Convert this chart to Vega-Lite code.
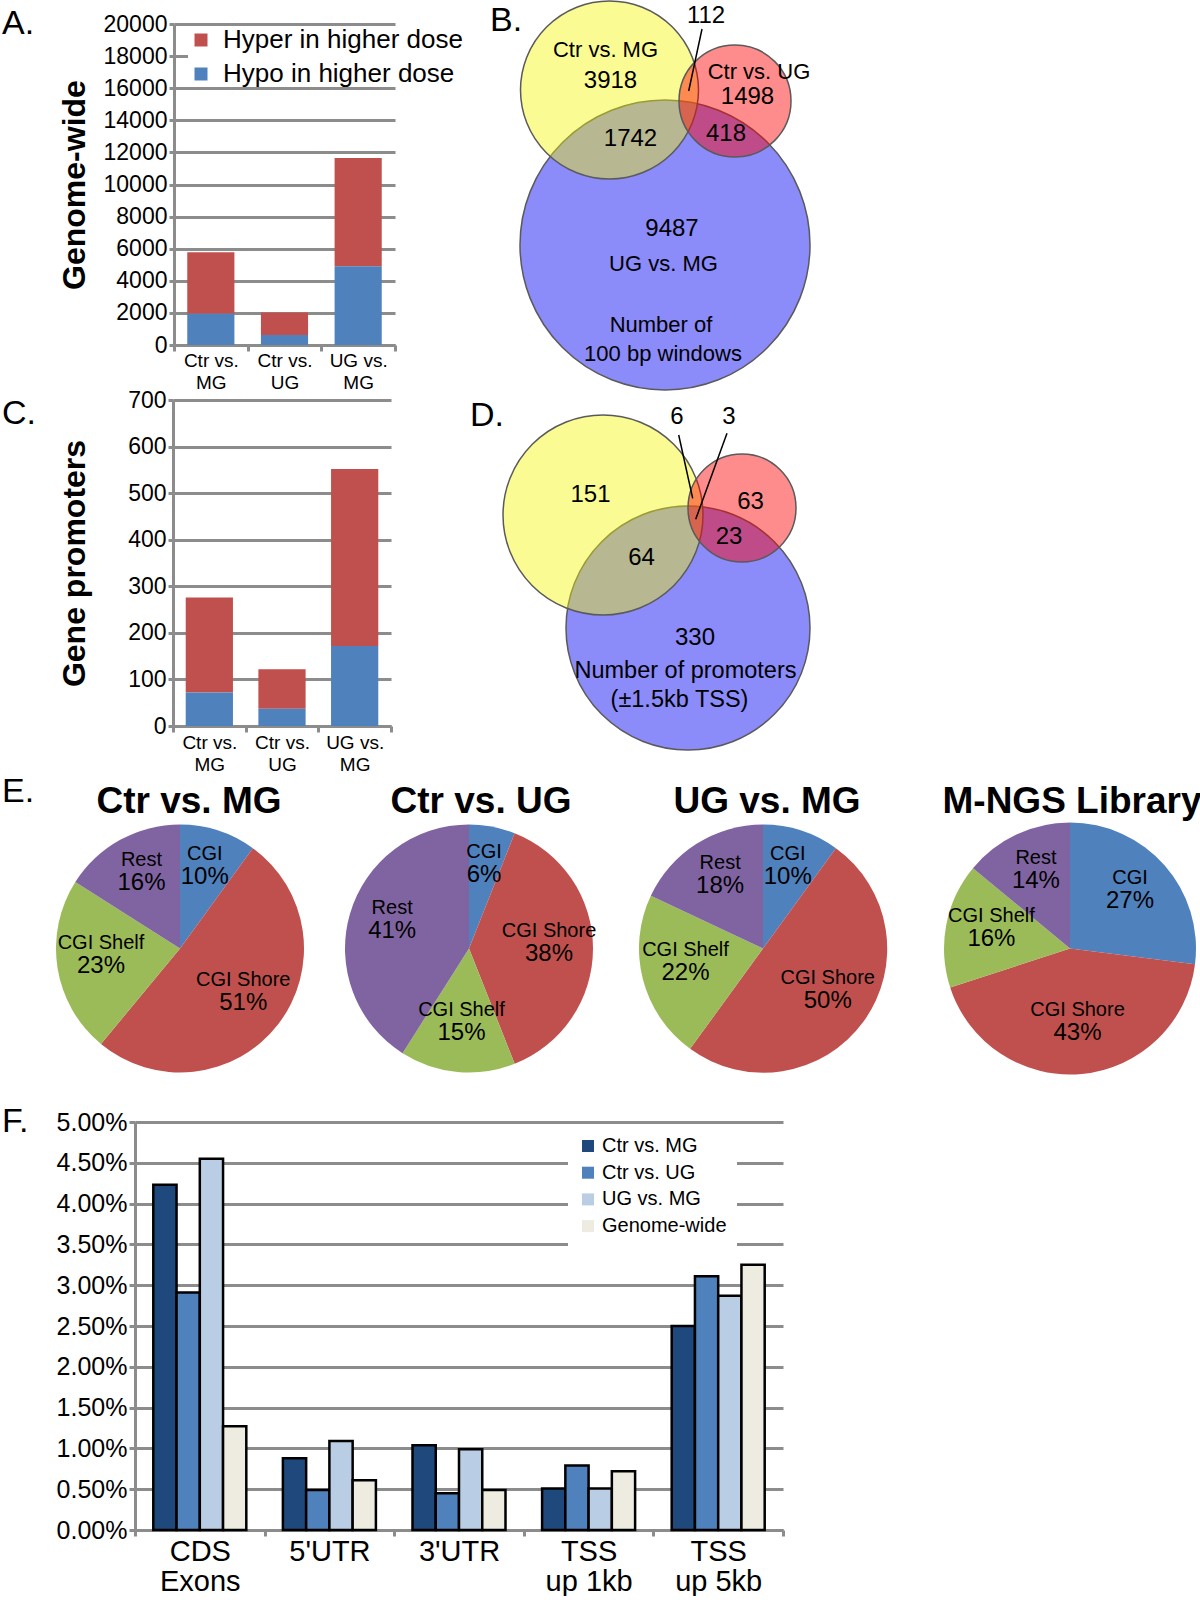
{
  "$schema": "https://vega.github.io/schema/vega-lite/v6.json",
  "padding": {"left": 2, "top": -2, "right": 0, "bottom": 0},
  "background": "white",
  "spacing": -4,
  "columns": 1,
  "align": "none",
  "resolve": {"scale": {"color": "independent", "size": "independent", "theta": "independent"}, "legend": {"color": "independent"}},
  "config": {
    "view": {"stroke": null},
    "font": "Liberation Sans",
    "axis": {"labelFont": "Liberation Sans", "titleFont": "Liberation Sans", "labelColor": "black", "titleColor": "black", "domainColor": "#8c8c8c", "domainWidth": 3, "tickColor": "#8c8c8c", "tickWidth": 3, "gridColor": "#8c8c8c", "gridWidth": 3, "gridOpacity": 1},
    "legend": {"labelFont": "Liberation Sans", "labelColor": "black", "labelLimit": 600},
    "title": {"font": "Liberation Sans", "color": "black"}
  },
  "datasets": {
    "pies": [
      {"panel": "Ctr vs. MG", "region": "CGI", "ord": 1, "share": 0.10},
      {"panel": "Ctr vs. MG", "region": "CGI Shore", "ord": 2, "share": 0.51},
      {"panel": "Ctr vs. MG", "region": "CGI Shelf", "ord": 3, "share": 0.23},
      {"panel": "Ctr vs. MG", "region": "Rest", "ord": 4, "share": 0.16},
      {"panel": "Ctr vs. UG", "region": "CGI", "ord": 1, "share": 0.06},
      {"panel": "Ctr vs. UG", "region": "CGI Shore", "ord": 2, "share": 0.38},
      {"panel": "Ctr vs. UG", "region": "CGI Shelf", "ord": 3, "share": 0.15},
      {"panel": "Ctr vs. UG", "region": "Rest", "ord": 4, "share": 0.41},
      {"panel": "UG vs. MG", "region": "CGI", "ord": 1, "share": 0.10},
      {"panel": "UG vs. MG", "region": "CGI Shore", "ord": 2, "share": 0.50},
      {"panel": "UG vs. MG", "region": "CGI Shelf", "ord": 3, "share": 0.22},
      {"panel": "UG vs. MG", "region": "Rest", "ord": 4, "share": 0.18},
      {"panel": "M-NGS Library", "region": "CGI", "ord": 1, "share": 0.27},
      {"panel": "M-NGS Library", "region": "CGI Shore", "ord": 2, "share": 0.43},
      {"panel": "M-NGS Library", "region": "CGI Shelf", "ord": 3, "share": 0.16},
      {"panel": "M-NGS Library", "region": "Rest", "ord": 4, "share": 0.14}
    ]
  },
  "concat": [
    {
      "resolve": {"legend": {"color": "independent"}, "scale": {"color": "independent"}},
      "hconcat": [
        {"width": 65, "height": 1, "data": {"values": []}, "mark": "point"},
        {
          "width": 221, "height": 321,
          "title": {"text": "A.", "anchor": "start", "frame": "group", "dx": -172, "offset": -28, "fontSize": 34, "fontWeight": "normal"},
          "data": {"values": [
            {"comparison": "Ctr vs. MG", "direction": "Hyper in higher dose", "count": 3822},
            {"comparison": "Ctr vs. MG", "direction": "Hypo in higher dose", "count": 1950},
            {"comparison": "Ctr vs. UG", "direction": "Hyper in higher dose", "count": 1402},
            {"comparison": "Ctr vs. UG", "direction": "Hypo in higher dose", "count": 626},
            {"comparison": "UG vs. MG", "direction": "Hyper in higher dose", "count": 6741},
            {"comparison": "UG vs. MG", "direction": "Hypo in higher dose", "count": 4906}
          ]},
          "mark": {"type": "bar", "width": {"band": 0.64}},
          "encoding": {
            "x": {"field": "comparison", "type": "nominal", "sort": null, "scale": {"paddingInner": 0, "paddingOuter": 0},
                  "axis": {"title": null, "labelAngle": 0, "labelFontSize": 19, "labelLineHeight": 22, "labelPadding": 0, "labelExpr": "split(replace(datum.label, 'vs. ', 'vs.|'), '|')", "tickBand": "extent", "tickSize": 6}},
            "y": {"field": "count", "type": "quantitative", "stack": "zero", "scale": {"domain": [0, 20000], "nice": false},
                  "axis": {"title": "Genome-wide", "titleFontSize": 32, "titleFontWeight": "bold", "titlePadding": 12, "values": [0, 2000, 4000, 6000, 8000, 10000, 12000, 14000, 16000, 18000, 20000], "format": "d", "labelFontSize": 23, "tickSize": 5, "labelPadding": 2, "grid": true}},
            "color": {"field": "direction", "type": "nominal", "scale": {"domain": ["Hyper in higher dose", "Hypo in higher dose"], "range": ["#c0504d", "#4f81bd"]},
                      "legend": {"title": null, "orient": "none", "legendX": 14, "legendY": 3, "labelFontSize": 26, "labelLimit": 600, "symbolType": "square", "symbolSize": 169, "symbolStrokeWidth": 0, "fillColor": "white", "padding": 0, "rowPadding": 8, "labelOffset": 9}},
            "order": {"field": "direction", "sort": "descending"}
          }
        },
        {
          "width": 320, "height": 360,
          "title": {"text": "B.", "anchor": "start", "frame": "group", "dx": -12, "offset": -40, "fontSize": 34, "fontWeight": "normal"},
          "layer": [
            {
              "data": {"values": [{"set": "UG vs. MG", "cx": 16.3, "cy": 22.1, "r": 14.5}]},
              "mark": {"type": "point", "shape": "circle", "filled": true, "fill": "#8b8bfa", "fillOpacity": 1, "opacity": 1, "stroke": "#5a5a5a", "strokeWidth": 1.5},
              "encoding": {
                "x": {"field": "cx", "type": "quantitative", "scale": {"domain": [0, 32], "nice": false, "zero": false}, "axis": null},
                "y": {"field": "cy", "type": "quantitative", "scale": {"domain": [0, 36], "nice": false, "zero": false, "reverse": true}, "axis": null},
                "size": {"field": "r", "type": "quantitative", "scale": {"type": "pow", "exponent": 2, "domain": [0, 10], "range": [0, 40000]}, "legend": null}
              }
            },
            {
              "data": {"values": [{"set": "Ctr vs. MG", "cx": 10.75, "cy": 6.6, "r": 8.9}]},
              "mark": {"type": "point", "shape": "circle", "filled": true, "fill": "#f5f500", "fillOpacity": 0.42, "opacity": 1, "stroke": "#5a5a5a", "strokeWidth": 1.5, "strokeOpacity": 1},
              "encoding": {
                "x": {"field": "cx", "type": "quantitative"},
                "y": {"field": "cy", "type": "quantitative"},
                "size": {"field": "r", "type": "quantitative", "legend": null}
              }
            },
            {
              "data": {"values": [{"set": "Ctr vs. UG", "cx": 23.3, "cy": 7.7, "r": 5.6}]},
              "mark": {"type": "point", "shape": "circle", "filled": true, "fill": "#ff0000", "fillOpacity": 0.45, "opacity": 1, "stroke": "#5a5a5a", "strokeWidth": 1.5, "strokeOpacity": 1},
              "encoding": {
                "x": {"field": "cx", "type": "quantitative"},
                "y": {"field": "cy", "type": "quantitative"},
                "size": {"field": "r", "type": "quantitative", "legend": null}
              }
            },
            {
              "data": {"values": [{"x": 20.0, "y": 0.5, "x2": 18.67, "y2": 6.7}]},
              "mark": {"type": "rule", "color": "black", "strokeWidth": 1.5},
              "encoding": {
                "x": {"field": "x", "type": "quantitative"},
                "y": {"field": "y", "type": "quantitative"},
                "x2": {"field": "x2"},
                "y2": {"field": "y2"}
              }
            },
            {
              "data": {"values": [
                {"label": "112", "x": 20.4, "y": -0.8},
                {"label": "3918", "x": 10.85, "y": 5.7},
                {"label": "1498", "x": 24.55, "y": 7.3},
                {"label": "1742", "x": 12.85, "y": 11.5},
                {"label": "418", "x": 22.4, "y": 11.0},
                {"label": "9487", "x": 17.0, "y": 20.45}
              ]},
              "mark": {"type": "text", "fontSize": 24, "color": "black"},
              "encoding": {
                "x": {"field": "x", "type": "quantitative"},
                "y": {"field": "y", "type": "quantitative"},
                "text": {"field": "label"}
              }
            },
            {
              "data": {"values": [
                {"label": "Ctr vs. MG", "x": 10.35, "y": 2.6},
                {"label": "Ctr vs. UG", "x": 25.7, "y": 4.8},
                {"label": "UG vs. MG", "x": 16.15, "y": 24.0},
                {"label": "Number of", "x": 15.9, "y": 30.05},
                {"label": "100 bp windows", "x": 16.1, "y": 32.95}
              ]},
              "mark": {"type": "text", "fontSize": 22, "color": "black"},
              "encoding": {
                "x": {"field": "x", "type": "quantitative"},
                "y": {"field": "y", "type": "quantitative"},
                "text": {"field": "label"}
              }
            }
          ]
        }
      ],
      "spacing": 107,
      "bounds": "flush"
    },
    {
      "hconcat": [
        {"width": 70, "height": 1, "data": {"values": []}, "mark": "point"},
        {
          "width": 218, "height": 326,
          "title": {"text": "C.", "anchor": "start", "frame": "group", "dx": -171, "offset": -42, "fontSize": 34, "fontWeight": "normal"},
          "data": {"values": [
            {"comparison": "Ctr vs. MG", "direction": "Hyper in higher dose", "count": 204},
            {"comparison": "Ctr vs. MG", "direction": "Hypo in higher dose", "count": 72},
            {"comparison": "Ctr vs. UG", "direction": "Hyper in higher dose", "count": 85},
            {"comparison": "Ctr vs. UG", "direction": "Hypo in higher dose", "count": 37},
            {"comparison": "UG vs. MG", "direction": "Hyper in higher dose", "count": 380},
            {"comparison": "UG vs. MG", "direction": "Hypo in higher dose", "count": 172}
          ]},
          "mark": {"type": "bar", "width": {"band": 0.65}},
          "encoding": {
            "x": {"field": "comparison", "type": "nominal", "sort": null, "scale": {"paddingInner": 0, "paddingOuter": 0},
                  "axis": {"title": null, "labelAngle": 0, "labelFontSize": 19, "labelLineHeight": 22, "labelPadding": 1, "labelExpr": "split(replace(datum.label, 'vs. ', 'vs.|'), '|')", "tickBand": "extent", "tickSize": 6}},
            "y": {"field": "count", "type": "quantitative", "stack": "zero", "scale": {"domain": [0, 700], "nice": false},
                  "axis": {"title": "Gene promoters", "titleFontSize": 32, "titleFontWeight": "bold", "titlePadding": 36, "values": [0, 100, 200, 300, 400, 500, 600, 700], "format": "d", "labelFontSize": 23, "tickSize": 5, "labelPadding": 2, "grid": true}},
            "color": {"field": "direction", "type": "nominal", "scale": {"domain": ["Hyper in higher dose", "Hypo in higher dose"], "range": ["#c0504d", "#4f81bd"]}, "legend": null},
            "order": {"field": "direction", "sort": "descending"}
          }
        },
        {
          "width": 320, "height": 379,
          "title": {"text": "D.", "anchor": "start", "frame": "group", "dx": -22, "offset": -33, "fontSize": 34, "fontWeight": "normal"},
          "layer": [
            {
              "data": {"values": [{"set": "UG vs. MG", "cx": 19.6, "cy": 22.8, "r": 12.2}]},
              "mark": {"type": "point", "shape": "circle", "filled": true, "fill": "#8b8bfa", "fillOpacity": 1, "opacity": 1, "stroke": "#5a5a5a", "strokeWidth": 1.5},
              "encoding": {
                "x": {"field": "cx", "type": "quantitative", "scale": {"domain": [0, 32], "nice": false, "zero": false}, "axis": null},
                "y": {"field": "cy", "type": "quantitative", "scale": {"domain": [0, 37.9], "nice": false, "zero": false, "reverse": true}, "axis": null},
                "size": {"field": "r", "type": "quantitative", "scale": {"type": "pow", "exponent": 2, "domain": [0, 10], "range": [0, 40000]}, "legend": null}
              }
            },
            {
              "data": {"values": [{"set": "Ctr vs. MG", "cx": 11.1, "cy": 11.5, "r": 10.0}]},
              "mark": {"type": "point", "shape": "circle", "filled": true, "fill": "#f5f500", "fillOpacity": 0.42, "opacity": 1, "stroke": "#5a5a5a", "strokeWidth": 1.5, "strokeOpacity": 1},
              "encoding": {
                "x": {"field": "cx", "type": "quantitative"},
                "y": {"field": "cy", "type": "quantitative"},
                "size": {"field": "r", "type": "quantitative", "legend": null}
              }
            },
            {
              "data": {"values": [{"set": "Ctr vs. UG", "cx": 25.0, "cy": 10.8, "r": 5.4}]},
              "mark": {"type": "point", "shape": "circle", "filled": true, "fill": "#ff0000", "fillOpacity": 0.45, "opacity": 1, "stroke": "#5a5a5a", "strokeWidth": 1.5, "strokeOpacity": 1},
              "encoding": {
                "x": {"field": "cx", "type": "quantitative"},
                "y": {"field": "cy", "type": "quantitative"},
                "size": {"field": "r", "type": "quantitative", "legend": null}
              }
            },
            {
              "data": {"values": [
                {"x": 18.67, "y": 3.5, "x2": 20.07, "y2": 9.83},
                {"x": 23.5, "y": 3.33, "x2": 20.37, "y2": 11.93}
              ]},
              "mark": {"type": "rule", "color": "black", "strokeWidth": 1.5},
              "encoding": {
                "x": {"field": "x", "type": "quantitative"},
                "y": {"field": "y", "type": "quantitative"},
                "x2": {"field": "x2"},
                "y2": {"field": "y2"}
              }
            },
            {
              "data": {"values": [
                {"label": "6", "x": 18.5, "y": 1.7},
                {"label": "3", "x": 23.7, "y": 1.7},
                {"label": "151", "x": 9.85, "y": 9.5},
                {"label": "63", "x": 25.85, "y": 10.15},
                {"label": "23", "x": 23.7, "y": 13.7},
                {"label": "64", "x": 14.95, "y": 15.75},
                {"label": "330", "x": 20.3, "y": 23.75}
              ]},
              "mark": {"type": "text", "fontSize": 24, "color": "black"},
              "encoding": {
                "x": {"field": "x", "type": "quantitative"},
                "y": {"field": "y", "type": "quantitative"},
                "text": {"field": "label"}
              }
            },
            {
              "data": {"values": [
                {"label": "Number of promoters", "x": 19.35, "y": 27.1},
                {"label": "(±1.5kb TSS)", "x": 18.75, "y": 30.0}
              ]},
              "mark": {"type": "text", "fontSize": 23.5, "color": "black"},
              "encoding": {
                "x": {"field": "x", "type": "quantitative"},
                "y": {"field": "y", "type": "quantitative"},
                "text": {"field": "label"}
              }
            }
          ]
        }
      ],
      "spacing": 101,
      "bounds": "flush"
    },
    {
      "title": {"text": "E.", "anchor": "start", "dx": 0, "offset": -26, "fontSize": 34, "fontWeight": "normal"},
      "hconcat": [
        {"width": 6, "height": 1, "data": {"values": []}, "mark": "point"},
        {
          "width": 344, "height": 321,
          "title": {"text": "Ctr vs. MG", "fontSize": 37, "fontWeight": "bold", "dx": 9, "offset": -33},
          "data": {"name": "pies"},
          "transform": [{"filter": "datum.panel == 'Ctr vs. MG'"}],
          "encoding": {
            "theta": {"field": "share", "type": "quantitative", "stack": true},
            "order": {"field": "ord", "type": "quantitative"},
            "detail": {"field": "region"}
          },
          "layer": [
            {"mark": {"type": "arc", "outerRadius": 124},
             "encoding": {"color": {"field": "region", "type": "nominal", "scale": {"domain": ["CGI", "CGI Shore", "CGI Shelf", "Rest"], "range": ["#4f81bd", "#c0504d", "#9bbb59", "#8064a2"]}, "legend": null}}},
            {"mark": {"type": "text", "radius": 80, "dy": -18, "fontSize": 20, "color": "black"}, "encoding": {"text": {"field": "region"}}},
            {"mark": {"type": "text", "radius": 80, "dy": 5, "fontSize": 24, "color": "black"}, "encoding": {"text": {"field": "share", "type": "quantitative", "format": ".0%"}}}
          ]
        },
        {
          "width": 234, "height": 321,
          "title": {"text": "Ctr vs. UG", "fontSize": 37, "fontWeight": "bold", "dx": 12, "offset": -33},
          "data": {"name": "pies"},
          "transform": [{"filter": "datum.panel == 'Ctr vs. UG'"}],
          "encoding": {
            "theta": {"field": "share", "type": "quantitative", "stack": true},
            "order": {"field": "ord", "type": "quantitative"},
            "detail": {"field": "region"}
          },
          "layer": [
            {"mark": {"type": "arc", "outerRadius": 124},
             "encoding": {"color": {"field": "region", "type": "nominal", "scale": {"domain": ["CGI", "CGI Shore", "CGI Shelf", "Rest"], "range": ["#4f81bd", "#c0504d", "#9bbb59", "#8064a2"]}, "legend": null}}},
            {"mark": {"type": "text", "radius": 80, "dy": -18, "fontSize": 20, "color": "black"}, "encoding": {"text": {"field": "region"}}},
            {"mark": {"type": "text", "radius": 80, "dy": 5, "fontSize": 24, "color": "black"}, "encoding": {"text": {"field": "share", "type": "quantitative", "format": ".0%"}}}
          ]
        },
        {
          "width": 354, "height": 321,
          "title": {"text": "UG vs. MG", "fontSize": 37, "fontWeight": "bold", "dx": 4, "offset": -33},
          "data": {"name": "pies"},
          "transform": [{"filter": "datum.panel == 'UG vs. MG'"}],
          "encoding": {
            "theta": {"field": "share", "type": "quantitative", "stack": true},
            "order": {"field": "ord", "type": "quantitative"},
            "detail": {"field": "region"}
          },
          "layer": [
            {"mark": {"type": "arc", "outerRadius": 124},
             "encoding": {"color": {"field": "region", "type": "nominal", "scale": {"domain": ["CGI", "CGI Shore", "CGI Shelf", "Rest"], "range": ["#4f81bd", "#c0504d", "#9bbb59", "#8064a2"]}, "legend": null}}},
            {"mark": {"type": "text", "radius": 80, "dy": -18, "fontSize": 20, "color": "black"}, "encoding": {"text": {"field": "region"}}},
            {"mark": {"type": "text", "radius": 80, "dy": 5, "fontSize": 24, "color": "black"}, "encoding": {"text": {"field": "share", "type": "quantitative", "format": ".0%"}}}
          ]
        },
        {
          "width": 260, "height": 321,
          "title": {"text": "M-NGS Library", "fontSize": 37, "fontWeight": "bold", "dx": 2, "offset": -33},
          "data": {"name": "pies"},
          "transform": [{"filter": "datum.panel == 'M-NGS Library'"}],
          "encoding": {
            "theta": {"field": "share", "type": "quantitative", "stack": true},
            "order": {"field": "ord", "type": "quantitative"},
            "detail": {"field": "region"}
          },
          "layer": [
            {"mark": {"type": "arc", "outerRadius": 126},
             "encoding": {"color": {"field": "region", "type": "nominal", "scale": {"domain": ["CGI", "CGI Shore", "CGI Shelf", "Rest"], "range": ["#4f81bd", "#c0504d", "#9bbb59", "#8064a2"]}, "legend": null}}},
            {"mark": {"type": "text", "radius": 80, "dy": -18, "fontSize": 20, "color": "black"}, "encoding": {"text": {"field": "region"}}},
            {"mark": {"type": "text", "radius": 80, "dy": 5, "fontSize": 24, "color": "black"}, "encoding": {"text": {"field": "share", "type": "quantitative", "format": ".0%"}}}
          ]
        }
      ],
      "spacing": 0,
      "bounds": "flush"
    },
    {
      "resolve": {"legend": {"color": "independent"}, "scale": {"color": "independent"}},
      "hconcat": [
        {"width": 133, "height": 1, "data": {"values": []}, "mark": "point"},
        {
          "width": 648, "height": 408,
          "title": {"text": "F.", "anchor": "start", "frame": "group", "dx": -133, "offset": -29, "fontSize": 34, "fontWeight": "normal"},
          "data": {"values": [
            {"region": "CDS Exons", "series": "Ctr vs. MG", "fraction": 0.0423},
            {"region": "CDS Exons", "series": "Ctr vs. UG", "fraction": 0.0291},
            {"region": "CDS Exons", "series": "UG vs. MG", "fraction": 0.0455},
            {"region": "CDS Exons", "series": "Genome-wide", "fraction": 0.0127},
            {"region": "5'UTR", "series": "Ctr vs. MG", "fraction": 0.0088},
            {"region": "5'UTR", "series": "Ctr vs. UG", "fraction": 0.0049},
            {"region": "5'UTR", "series": "UG vs. MG", "fraction": 0.0109},
            {"region": "5'UTR", "series": "Genome-wide", "fraction": 0.0061},
            {"region": "3'UTR", "series": "Ctr vs. MG", "fraction": 0.0104},
            {"region": "3'UTR", "series": "Ctr vs. UG", "fraction": 0.0045},
            {"region": "3'UTR", "series": "UG vs. MG", "fraction": 0.0099},
            {"region": "3'UTR", "series": "Genome-wide", "fraction": 0.0049},
            {"region": "TSS up 1kb", "series": "Ctr vs. MG", "fraction": 0.0051},
            {"region": "TSS up 1kb", "series": "Ctr vs. UG", "fraction": 0.0079},
            {"region": "TSS up 1kb", "series": "UG vs. MG", "fraction": 0.0051},
            {"region": "TSS up 1kb", "series": "Genome-wide", "fraction": 0.0072},
            {"region": "TSS up 5kb", "series": "Ctr vs. MG", "fraction": 0.0250},
            {"region": "TSS up 5kb", "series": "Ctr vs. UG", "fraction": 0.0311},
            {"region": "TSS up 5kb", "series": "UG vs. MG", "fraction": 0.0287},
            {"region": "TSS up 5kb", "series": "Genome-wide", "fraction": 0.0325}
          ]},
          "mark": {"type": "bar", "stroke": "black", "strokeWidth": 2.5},
          "encoding": {
            "x": {"field": "region", "type": "nominal", "sort": ["CDS Exons", "5'UTR", "3'UTR", "TSS up 1kb", "TSS up 5kb"], "scale": {"paddingInner": 0, "paddingOuter": 0},
                  "axis": {"title": null, "labelAngle": 0, "labelFontSize": 29, "labelLineHeight": 30, "labelPadding": 1, "labelExpr": "indexof(datum.label, ' ') > 0 ? [substring(datum.label, 0, indexof(datum.label, ' ')), substring(datum.label, indexof(datum.label, ' ') + 1)] : datum.label", "tickBand": "extent", "tickSize": 6}},
            "xOffset": {"field": "series", "type": "nominal", "sort": ["Ctr vs. MG", "Ctr vs. UG", "UG vs. MG", "Genome-wide"], "scale": {"paddingInner": 0, "paddingOuter": 0.787}},
            "y": {"field": "fraction", "type": "quantitative", "scale": {"domain": [0, 0.05], "nice": false},
                  "axis": {"title": null, "format": ".2%", "values": [0, 0.005, 0.01, 0.015, 0.02, 0.025, 0.03, 0.035, 0.04, 0.045, 0.05], "labelFontSize": 25, "tickSize": 6, "labelPadding": 2, "grid": true}},
            "color": {"field": "series", "type": "nominal", "sort": ["Ctr vs. MG", "Ctr vs. UG", "UG vs. MG", "Genome-wide"],
                      "scale": {"domain": ["Ctr vs. MG", "Ctr vs. UG", "UG vs. MG", "Genome-wide"], "range": ["#1f497d", "#4f81bd", "#b9cde5", "#eeece1"]},
                      "legend": {"title": null, "orient": "none", "legendX": 433, "legendY": 4, "labelFontSize": 20, "symbolType": "square", "symbolSize": 144, "symbolStrokeWidth": 0, "fillColor": "white", "padding": 10, "rowPadding": 6.7, "labelOffset": 4}}
          }
        }
      ],
      "spacing": 0,
      "bounds": "flush"
    }
  ]
}
